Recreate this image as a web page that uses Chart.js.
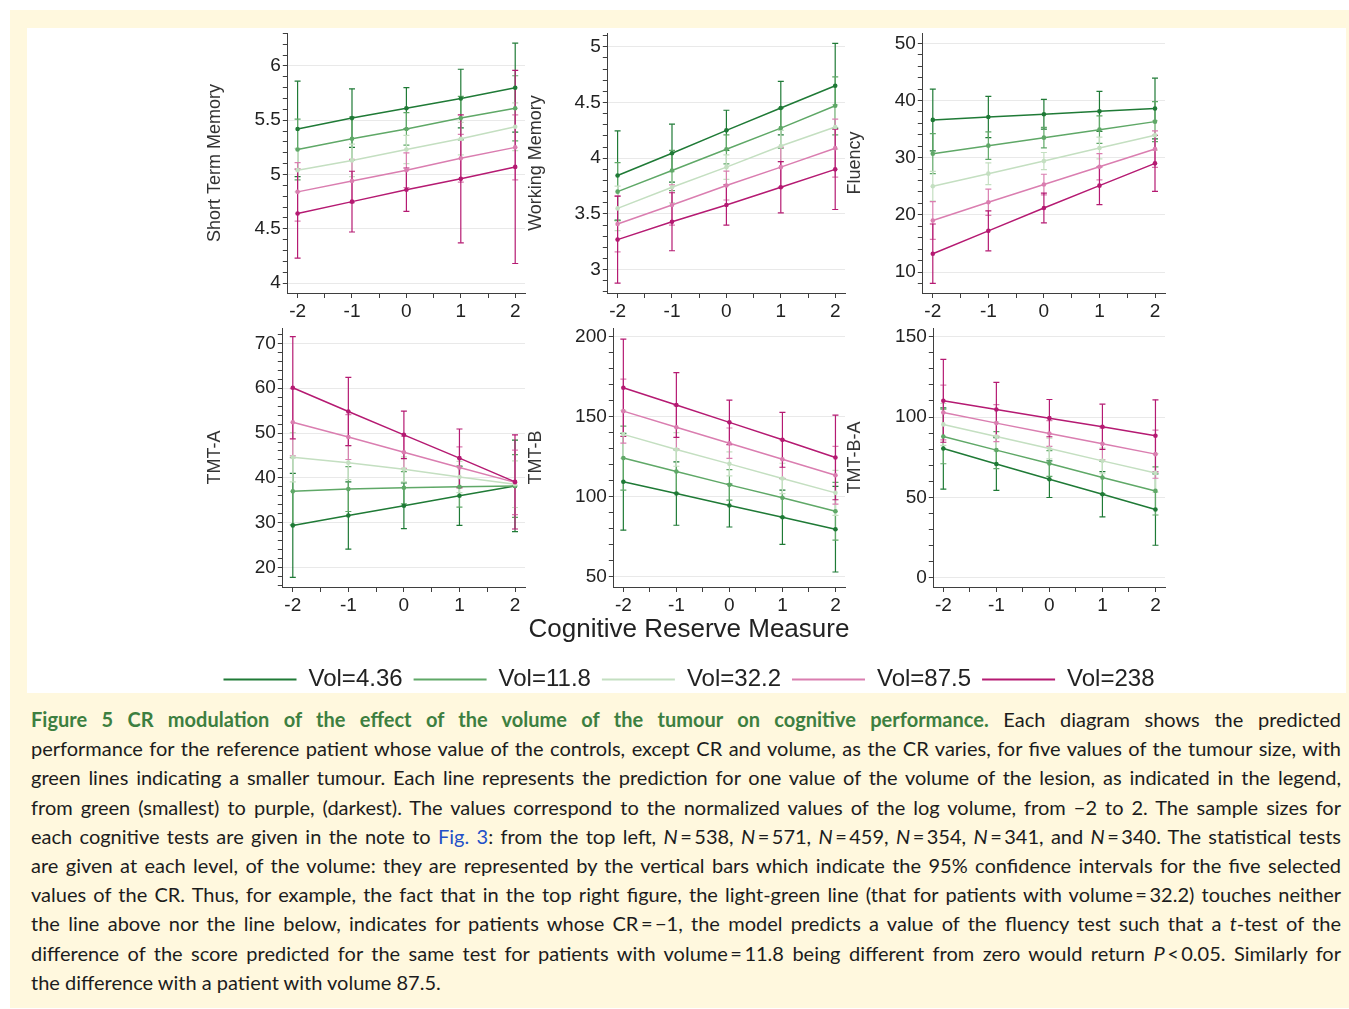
<!DOCTYPE html>
<html>
<head>
<meta charset="utf-8">
<script src="https://cdn.jsdelivr.net/npm/chart.js@4.4.0/dist/chart.umd.min.js"></script>
<style>
html,body{margin:0;padding:0;background:#fff;width:1349px;height:1009px;overflow:hidden;}
#frame{position:absolute;left:10px;top:10px;width:1339px;height:998px;background:#fff8de;}
#plotbox{position:absolute;left:27px;top:28px;width:1319px;height:665px;background:#fff;}
canvas{position:absolute;}
#caption{position:absolute;left:31px;top:705px;width:1310px;font-family:Lato,'Open Sans',sans-serif;font-size:20px;line-height:29.2px;color:#1c1c1c;}
.ln{white-space:nowrap;text-align:justify;text-align-last:justify;}
.ln.last{text-align:left;text-align-last:left;}
.ttl{color:#3d7f40;font-weight:bold;}
.lnk{color:#2350c8;}
</style>
</head>
<body>
<div id="frame"></div>
<div id="plotbox"></div>
<div id="caption">
<div class="ln"><span class="ttl">Figure 5 CR modulation of the effect of the volume of the tumour on cognitive performance.</span> Each diagram shows the predicted</div>
<div class="ln">performance for the reference patient whose value of the controls, except CR and volume, as the CR varies, for five values of the tumour size, with</div>
<div class="ln">green lines indicating a smaller tumour. Each line represents the prediction for one value of the volume of the lesion, as indicated in the legend,</div>
<div class="ln">from green (smallest) to purple, (darkest). The values correspond to the normalized values of the log volume, from −2 to 2. The sample sizes for</div>
<div class="ln">each cognitive tests are given in the note to <span class="lnk">Fig. 3</span>: from the top left, <i>N</i>&#8201;=&#8201;538, <i>N</i>&#8201;=&#8201;571, <i>N</i>&#8201;=&#8201;459, <i>N</i>&#8201;=&#8201;354, <i>N</i>&#8201;=&#8201;341, and <i>N</i>&#8201;=&#8201;340. The statistical tests</div>
<div class="ln">are given at each level, of the volume: they are represented by the vertical bars which indicate the 95% confidence intervals for the five selected</div>
<div class="ln">values of the CR. Thus, for example, the fact that in the top right figure, the light-green line (that for patients with volume&#8201;=&#8201;32.2) touches neither</div>
<div class="ln">the line above nor the line below, indicates for patients whose CR&#8201;=&#8201;−1, the model predicts a value of the fluency test such that a <i>t</i>-test of the</div>
<div class="ln">difference of the score predicted for the same test for patients with volume&#8201;=&#8201;11.8 being different from zero would return <i>P</i>&#8201;&lt;&#8201;0.05. Similarly for</div>
<div class="ln last">the difference with a patient with volume 87.5.</div>
</div>
<script>
// ---------------- DATA ----------------
const cr = [-2, -1, 0, 1, 2];
const volLabels = ['Vol=4.36', 'Vol=11.8', 'Vol=32.2', 'Vol=87.5', 'Vol=238'];

// Short Term Memory
const stmMean = [
  [5.42, 5.52, 5.61, 5.70, 5.80],
  [5.23, 5.33, 5.42, 5.52, 5.61],
  [5.04, 5.13, 5.23, 5.33, 5.44],
  [4.84, 4.94, 5.04, 5.15, 5.25],
  [4.64, 4.75, 4.86, 4.96, 5.07]
];
const stmHalf = [
  [0.44, 0.27, 0.19, 0.27, 0.41],
  [0.28, 0.20, 0.15, 0.20, 0.30],
  [0.20, 0.15, 0.13, 0.15, 0.22],
  [0.27, 0.20, 0.16, 0.22, 0.30],
  [0.41, 0.28, 0.20, 0.59, 0.89]
];
const stmTicks = [4, 4.5, 5, 5.5, 6];

// Working Memory
const wmMean = [
  [3.845, 4.045, 4.25, 4.45, 4.65],
  [3.70, 3.89, 4.08, 4.27, 4.47],
  [3.55, 3.74, 3.92, 4.11, 4.28],
  [3.41, 3.58, 3.755, 3.92, 4.09],
  [3.27, 3.43, 3.58, 3.74, 3.90]
];
const wmHalf = [
  [0.40, 0.26, 0.18, 0.24, 0.38],
  [0.26, 0.18, 0.13, 0.18, 0.26],
  [0.20, 0.14, 0.11, 0.14, 0.20],
  [0.25, 0.18, 0.13, 0.18, 0.26],
  [0.39, 0.26, 0.18, 0.23, 0.36]
];
const wmTicks = [3, 3.5, 4, 4.5, 5];

// Fluency
const fluMean = [
  [36.6, 37.1, 37.6, 38.1, 38.6],
  [30.7, 32.1, 33.5, 34.9, 36.3],
  [25.0, 27.2, 29.4, 31.7, 33.9],
  [19.0, 22.2, 25.3, 28.4, 31.5],
  [13.2, 17.2, 21.2, 25.1, 29.0]
];
const fluHalf = [
  [5.4, 3.6, 2.6, 3.5, 5.3],
  [3.5, 2.4, 1.8, 2.4, 3.5],
  [2.6, 1.9, 1.5, 1.9, 2.6],
  [3.3, 2.3, 1.8, 2.3, 3.2],
  [5.2, 3.5, 2.6, 3.3, 4.9]
];
const fluTicks = [10, 20, 30, 40, 50];

// TMT-A
const tmtaMean = [
  [29.4, 31.6, 33.8, 36.0, 38.2],
  [37.0, 37.5, 37.8, 38.0, 38.2],
  [44.6, 43.4, 41.9, 40.2, 38.6],
  [52.4, 49.1, 45.7, 42.3, 39.0],
  [60.1, 54.8, 49.6, 44.4, 39.1]
];
const tmtaHalf = [
  [11.6, 7.5, 5.1, 6.6, 10.2],
  [7.5, 5.0, 3.6, 4.5, 7.0],
  [5.5, 3.8, 2.8, 3.5, 5.2],
  [7.5, 5.0, 3.6, 4.6, 7.2],
  [11.4, 7.6, 5.3, 6.5, 10.5]
];
const tmtaTicks = [20, 30, 40, 50, 60, 70];

// TMT-B
const tmtbMean = [
  [109.4, 102.1, 94.6, 87.3, 79.8],
  [124.2, 115.8, 107.5, 99.4, 91.0],
  [139.0, 129.6, 120.6, 111.5, 102.5],
  [153.5, 143.5, 133.5, 123.5, 113.5],
  [168.1, 157.3, 146.5, 135.6, 124.6]
];
const tmtbHalf = [
  [30.2, 19.8, 13.4, 16.9, 26.7],
  [20.0, 13.5, 9.5, 12.0, 18.0],
  [15.0, 10.5, 7.5, 9.5, 14.0],
  [20.0, 13.5, 9.5, 12.0, 18.0],
  [30.4, 20.2, 13.9, 17.1, 26.4]
];
const tmtbTicks = [50, 100, 150, 200];

// TMT-B-A
const tmtbaMean = [
  [80.4, 70.8, 61.3, 51.9, 42.4],
  [87.9, 79.4, 71.1, 62.3, 54.0],
  [95.4, 87.9, 80.4, 72.7, 65.2],
  [102.8, 96.2, 89.7, 83.3, 76.9],
  [110.1, 104.7, 99.3, 93.9, 88.3]
];
const tmtbaHalf = [
  [25.3, 16.4, 11.4, 14.1, 22.2],
  [17.0, 11.5, 8.0, 10.0, 15.0],
  [13.0, 9.0, 6.5, 8.0, 12.0],
  [17.0, 11.5, 8.0, 10.0, 15.0],
  [25.8, 16.8, 11.6, 14.1, 22.4]
];
const tmtbaTicks = [0, 50, 100, 150];

// ---------------- STYLE / LAYOUT ----------------
const volColors = ['#1f7a36', '#5fa867', '#c4dfc1', '#da7eb0', '#b51a72'];
const FONT = "'Liberation Sans', Arial, sans-serif";
const AXIS = '#3f3f3f';
const TITLE_SIZE = 18;
const PAD_TOP = 16, PAD_RIGHT = 10, X_H = 34;

const panels = [
  {title: 'Short Term Memory', mean: stmMean, half: stmHalf, ticks: stmTicks, minor: 0.1, ymin: 3.908, ymax: 6.304, left: 288, top: 33, w: 237, h: 260, tx: 215},
  {title: 'Working Memory', mean: wmMean, half: wmHalf, ticks: wmTicks, minor: 0.1, ymin: 2.791, ymax: 5.123, left: 608, top: 33, w: 237, h: 260, tx: 536},
  {title: 'Fluency', mean: fluMean, half: fluHalf, ticks: fluTicks, minor: 2, ymin: 6.33, ymax: 51.8, left: 923, top: 33, w: 242, h: 260, tx: 855},
  {title: 'TMT-A', mean: tmtaMean, half: tmtaHalf, ticks: tmtaTicks, minor: 2, ymin: 15.67, ymax: 73.42, left: 283, top: 328, w: 242, h: 259, tx: 215},
  {title: 'TMT-B', mean: tmtbMean, half: tmtbHalf, ticks: tmtbTicks, minor: 10, ymin: 43.75, ymax: 205.4, left: 614, top: 328, w: 231, h: 259, tx: 536},
  {title: 'TMT-B-A', mean: tmtbaMean, half: tmtbaHalf, ticks: tmtbaTicks, minor: 10, ymin: -5.8, ymax: 155.4, left: 934, top: 328, w: 231, h: 259, tx: 855}
];

function near(list, v) { return list.some(t => Math.abs(t - v) < 1e-6); }

function buildDatasets(p) {
  const ds = [];
  for (let s = 0; s < volLabels.length; s++) {
    const c = volColors[s];
    ds.push({
      label: volLabels[s],
      data: cr.map((x, i) => ({x: x, y: p.mean[s][i]})),
      borderColor: c, backgroundColor: c, borderWidth: 1.5,
      pointRadius: 2.3, pointBackgroundColor: c, pointBorderWidth: 0,
      order: 4 - s
    });
    const bars = [];
    cr.forEach((x, i) => {
      bars.push({x: x, y: p.mean[s][i] - p.half[s][i]});
      bars.push({x: x, y: p.mean[s][i] + p.half[s][i]});
      bars.push({x: x, y: null});
    });
    ds.push({
      label: volLabels[s] + ' CI',
      data: bars,
      borderColor: c, backgroundColor: c, borderWidth: 1.2,
      pointStyle: 'line', pointRadius: 3, pointBorderColor: c, pointBorderWidth: 1.2,
      spanGaps: false,
      order: 10 + (4 - s)
    });
  }
  return ds;
}

panels.forEach((p) => {
  const lh = TITLE_SIZE * 1.2;
  const canvasLeft = p.tx - lh / 2;
  const yW = p.left - canvasLeft;
  const cv = document.createElement('canvas');
  cv.width = Math.round(yW + p.w + PAD_RIGHT);
  cv.height = PAD_TOP + p.h + X_H;
  cv.style.left = canvasLeft + 'px';
  cv.style.top = (p.top - PAD_TOP) + 'px';
  document.body.appendChild(cv);
  new Chart(cv, {
    type: 'line',
    data: {datasets: buildDatasets(p)},
    options: {
      responsive: false, animation: false, events: [],
      layout: {padding: {left: 0, right: PAD_RIGHT, top: PAD_TOP, bottom: 0}},
      plugins: {legend: {display: false}, tooltip: {enabled: false}, title: {display: false}},
      scales: {
        x: {
          type: 'linear', min: -2.18, max: 2.18,
          afterFit: s => { s.height = X_H; },
          ticks: {
            stepSize: 0.5, autoSkip: false, includeBounds: false, maxRotation: 0, padding: 2,
            color: '#222', font: {family: FONT, size: 19},
            callback: v => near(cr, v) ? String(Math.round(v)) : ''
          },
          grid: {drawOnChartArea: false, tickLength: 5, tickColor: AXIS, color: AXIS},
          border: {display: true, color: AXIS, width: 1}
        },
        y: {
          type: 'linear', min: p.ymin, max: p.ymax,
          afterFit: s => { s.width = yW; },
          ticks: {
            stepSize: p.minor, autoSkip: false, includeBounds: false, padding: 2,
            color: '#222', font: {family: FONT, size: 19},
            callback: v => near(p.ticks, v) ? String(p.ticks.find(t => Math.abs(t - v) < 1e-6)) : ''
          },
          grid: {
            color: c => (c.tick && near(p.ticks, c.tick.value)) ? '#e9e9e9' : 'rgba(0,0,0,0)',
            tickColor: AXIS, tickLength: 5, lineWidth: 1
          },
          border: {display: true, color: AXIS, width: 1},
          title: {display: true, text: p.title, color: '#333', font: {family: FONT, size: TITLE_SIZE}, padding: {top: 0, bottom: 0}}
        }
      }
    }
  });
});

// Shared x title + legend
(function () {
  const cv = document.createElement('canvas');
  cv.width = 980; cv.height = 89;
  cv.style.left = '199px'; cv.style.top = '612px';
  document.body.appendChild(cv);
  new Chart(cv, {
    type: 'line',
    data: {datasets: volLabels.map((l, i) => ({label: l, data: [], borderColor: volColors[i], backgroundColor: volColors[i], borderWidth: 0}))},
    options: {
      responsive: false, animation: false, events: [],
      layout: {padding: 0},
      scales: {x: {display: false}, y: {display: false}},
      plugins: {
        tooltip: {enabled: false},
        title: {display: true, text: 'Cognitive Reserve Measure', color: '#222', font: {family: FONT, size: 26, weight: 'normal'}, padding: {top: 2, bottom: 0}},
        legend: {position: 'bottom', labels: {boxWidth: 73, boxHeight: 2, padding: 11, color: '#222', font: {family: FONT, size: 24}}}
      }
    }
  });
})();
</script>
</body>
</html>
